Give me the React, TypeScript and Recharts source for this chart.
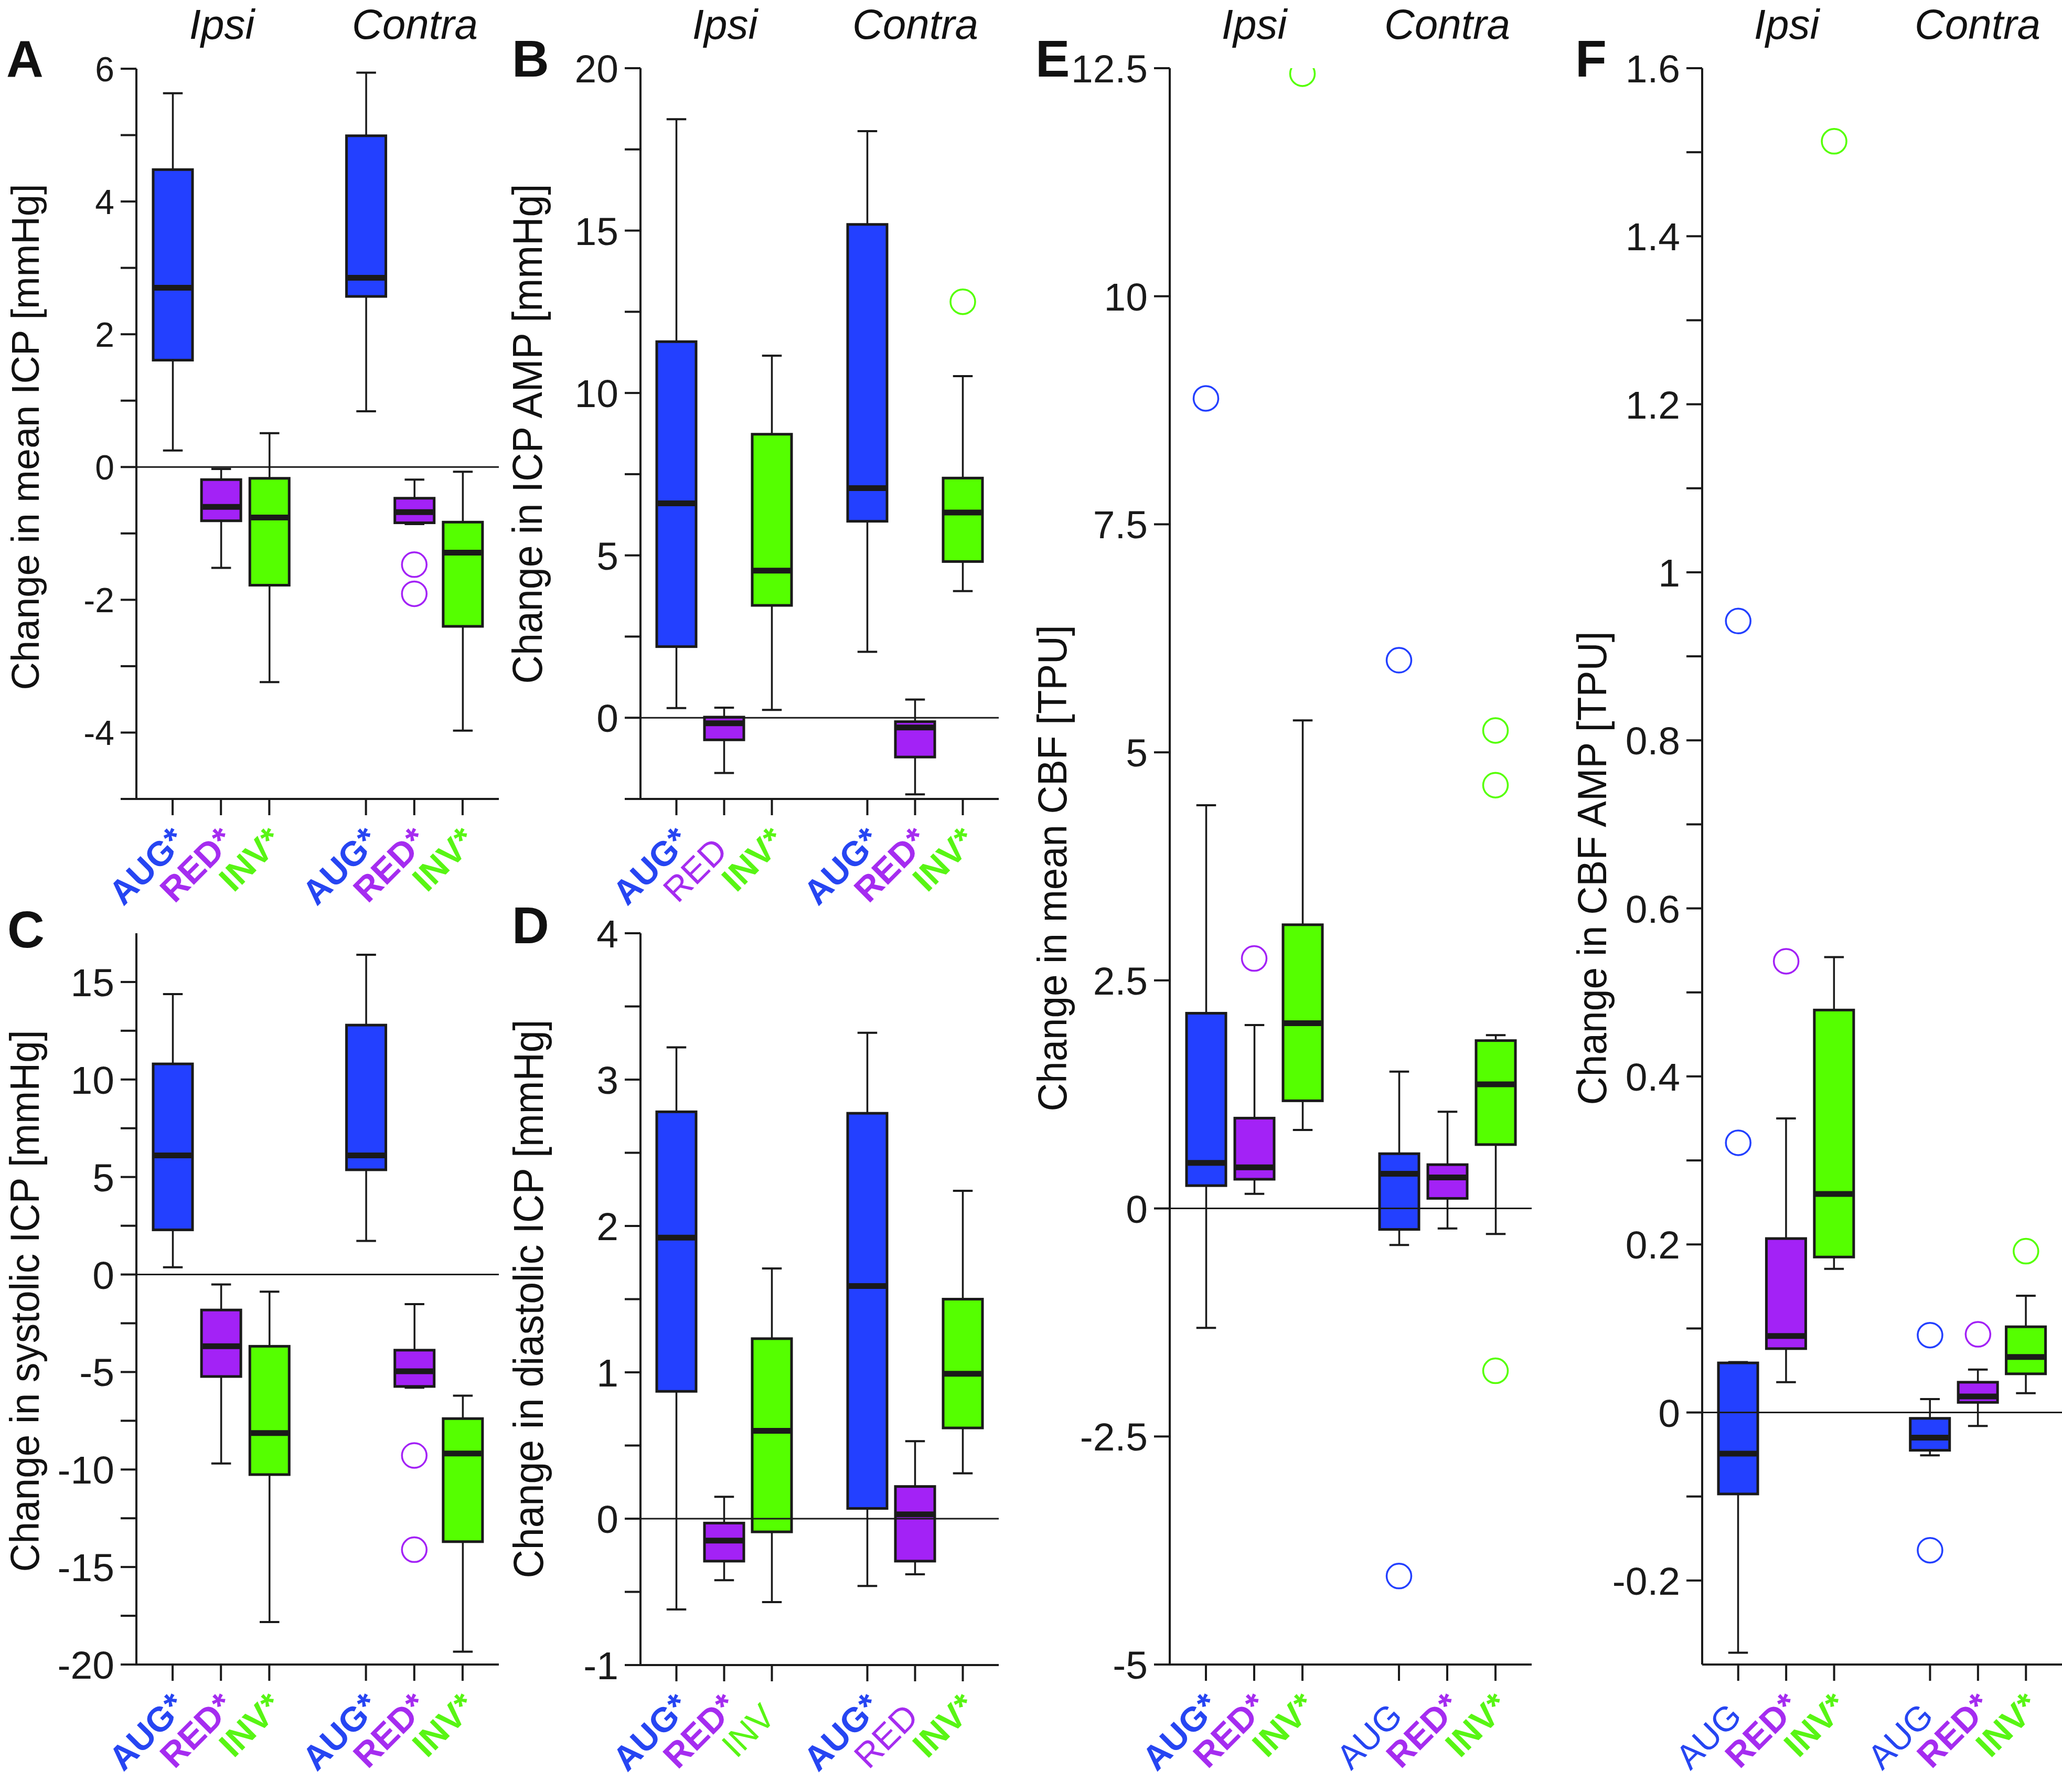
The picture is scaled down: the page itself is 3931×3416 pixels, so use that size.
import React from 'react'
import { ComposedChart, Bar, Line, XAxis, YAxis, ReferenceLine } from 'recharts'

const FONT = '"Liberation Sans", Arial, Helvetica, sans-serif'
const INK = '#1a1a1a'

// 7 slots on each x axis: ipsi AUG/RED/INV, an empty gap, contra AUG/RED/INV
const SLOTS = ['AUG', 'RED', 'INV', '', 'AUG', 'RED', 'INV']

const COLORS: Record<string, string> = { AUG: '#2340ff', RED: '#a322f6', INV: '#55ff00' }
const TEXT_COLORS: Record<string, string> = { AUG: '#2645f2', RED: '#a52cf0', INV: '#58f514' }

// boxes are [low whisker, q1, median, q3, high whisker]
// A - change in mean ICP [mmHg]
const A_BOXES = [
  [0.25, 1.61, 2.7, 4.48, 5.63],
  [-1.52, -0.81, -0.6, -0.19, -0.03],
  [-3.24, -1.78, -0.76, -0.17, 0.51],
  null,
  [0.84, 2.57, 2.85, 4.99, 5.94],
  [-0.86, -0.84, -0.68, -0.47, -0.19],
  [-3.97, -2.4, -1.29, -0.83, -0.07],
]
const A_OUTLIERS = [[], [], [], [], [], [-1.47, -1.91], []]
const A_STARS = [true, true, true, false, true, true, true]
const A_TICKS = [-5, -4, -3, -2, -1, 0, 1, 2, 3, 4, 5, 6]
const A_MAJORS = [-4, -2, 0, 2, 4, 6]

// B - change in ICP AMP [mmHg]
const B_BOXES = [
  [0.3, 2.19, 6.6, 11.58, 18.43],
  [-1.7, -0.68, -0.17, 0.02, 0.31],
  [0.24, 3.46, 4.53, 8.73, 11.15],
  null,
  [2.03, 6.05, 7.07, 15.19, 18.06],
  [-2.36, -1.21, -0.3, -0.12, 0.56],
  [3.9, 4.81, 6.32, 7.38, 10.52],
]
const B_OUTLIERS = [[], [], [], [], [], [], [12.81]]
const B_STARS = [true, false, true, false, true, true, true]
const B_TICKS = [-2.5, 0, 2.5, 5, 7.5, 10, 12.5, 15, 17.5, 20]
const B_MAJORS = [0, 5, 10, 15, 20]

// C - change in systolic ICP [mmHg]
const C_BOXES = [
  [0.37, 2.29, 6.11, 10.8, 14.38],
  [-9.69, -5.23, -3.68, -1.82, -0.51],
  [-17.82, -10.26, -8.13, -3.68, -0.88],
  null,
  [1.72, 5.37, 6.11, 12.79, 16.4],
  [-5.8, -5.74, -4.96, -3.88, -1.52],
  [-19.34, -13.7, -9.18, -7.39, -6.21],
]
const C_OUTLIERS = [[], [], [], [], [], [-9.28, -14.11], []]
const C_STARS = [true, true, true, false, true, true, true]
const C_TICKS = [-20, -17.5, -15, -12.5, -10, -7.5, -5, -2.5, 0, 2.5, 5, 7.5, 10, 12.5, 15]
const C_MAJORS = [-20, -15, -10, -5, 0, 5, 10, 15]

// D - change in diastolic ICP [mmHg]
const D_BOXES = [
  [-0.62, 0.87, 1.92, 2.78, 3.22],
  [-0.42, -0.29, -0.15, -0.03, 0.15],
  [-0.57, -0.09, 0.6, 1.23, 1.71],
  null,
  [-0.46, 0.07, 1.59, 2.77, 3.32],
  [-0.38, -0.29, 0.03, 0.22, 0.53],
  [0.31, 0.62, 0.99, 1.5, 2.24],
]
const D_OUTLIERS = [[], [], [], [], [], [], []]
const D_STARS = [true, true, false, false, true, false, true]
const D_TICKS = [-1, -0.5, 0, 0.5, 1, 1.5, 2, 2.5, 3, 3.5, 4]
const D_MAJORS = [-1, 0, 1, 2, 3, 4]

// E - change in mean CBF [TPU]
const E_BOXES = [
  [-1.31, 0.25, 0.5, 2.14, 4.42],
  [0.16, 0.32, 0.45, 0.99, 2.01],
  [0.86, 1.18, 2.03, 3.11, 5.35],
  null,
  [-0.4, -0.23, 0.38, 0.6, 1.5],
  [-0.22, 0.11, 0.34, 0.48, 1.06],
  [-0.28, 0.7, 1.36, 1.84, 1.9],
]
const E_OUTLIERS = [[8.88], [2.74], [12.44], [], [6.01, -4.03], [], [5.24, 4.64, -1.78]]
const E_STARS = [true, true, true, false, false, true, true]
const E_TICKS = [-5, -2.5, 0, 2.5, 5, 7.5, 10, 12.5]
const E_MAJORS = E_TICKS

// F - change in CBF AMP [TPU]
const F_BOXES = [
  [-0.286, -0.097, -0.049, 0.059, 0.06],
  [0.036, 0.076, 0.091, 0.207, 0.35],
  [0.171, 0.185, 0.26, 0.479, 0.542],
  null,
  [-0.051, -0.045, -0.03, -0.007, 0.016],
  [-0.016, 0.012, 0.019, 0.036, 0.051],
  [0.023, 0.046, 0.066, 0.102, 0.139],
]
const F_OUTLIERS = [[0.942, 0.321], [0.537], [1.513], [], [0.092, -0.164], [0.093], [0.192]]
const F_STARS = [false, true, true, false, false, true, true]
const F_TICKS = [-0.2, -0.1, 0, 0.1, 0.2, 0.3, 0.4, 0.5, 0.6, 0.7, 0.8, 0.9, 1, 1.1, 1.2, 1.3, 1.4, 1.5, 1.6]
const F_MAJORS = [-0.2, 0, 0.2, 0.4, 0.6, 0.8, 1, 1.2, 1.4, 1.6]

const buildRows = (boxes: any[], outliers: number[][], stars: boolean[]) =>
  SLOTS.map((group, i) => {
    const b = boxes[i]
    const o = outliers[i] || []
    return {
      slot: i,
      group,
      star: stars[i],
      range: b ? [b[0], b[4]] : null,
      q1: b ? b[1] : null,
      med: b ? b[2] : null,
      q3: b ? b[3] : null,
      o0: o[0] ?? null,
      o1: o[1] ?? null,
      o2: o[2] ?? null,
    }
  })

const fmt = (v: number) => String(Math.round(v * 100) / 100)

// box + whiskers, positioned from the bar rect that recharts scales for [low, high]
const BoxShape = (props: any) => {
  const { x, y, width, height, payload } = props
  if (!payload || !payload.range) return <g />
  const [lo, hi] = payload.range
  const py = (v: number) => (hi === lo ? y : y + ((hi - v) / (hi - lo)) * height)
  const cx = x + width / 2
  const cap = width / 4
  const top = py(payload.q3)
  const bot = py(payload.q1)
  const med = py(payload.med)
  return (
    <g>
      <line x1={cx} x2={cx} y1={y} y2={y + height} stroke={INK} strokeWidth={3.5} />
      <line x1={cx - cap} x2={cx + cap} y1={y} y2={y} stroke={INK} strokeWidth={4} />
      <line x1={cx - cap} x2={cx + cap} y1={y + height} y2={y + height} stroke={INK} strokeWidth={4} />
      <rect x={x} y={top} width={width} height={Math.max(bot - top, 0)} fill={COLORS[payload.group]} stroke={INK} strokeWidth={5} />
      <line x1={x + 2} x2={x + width - 2} y1={med} y2={med} stroke={INK} strokeWidth={11} />
    </g>
  )
}

const outlierDot = (p: any) => {
  const k = `o-${p.dataKey}-${p.index}`
  if (p.value == null || p.cy == null || Number.isNaN(p.cy)) return <g key={k} />
  return <circle key={k} cx={p.cx} cy={p.cy} r={23.5} fill="none" stroke={COLORS[p.payload.group]} strokeWidth={3.5} />
}

const YTick = ({ x, y, payload, majors, fontSize }: any) => {
  const v = payload.value
  if (!majors.some((m: number) => Math.abs(m - v) < 1e-9)) return <g />
  return (
    <text x={x} y={y} dy="0.36em" textAnchor="end" fontSize={fontSize} fill={INK} fontFamily={FONT}>
      {fmt(v)}
    </text>
  )
}

const XTick = ({ x, y, index, rows }: any) => {
  const row = rows[index]
  if (!row || !row.group) return <g />
  const color = TEXT_COLORS[row.group]
  return (
    <g>
      <line x1={x} x2={x} y1={y} y2={y + 31} stroke={INK} strokeWidth={4} />
      <g transform={`translate(${x + 10},${y + 102}) rotate(-45)`}>
        <text x={0} y={0} textAnchor="end" fontSize={66} fontWeight={row.star ? 700 : 400} fill={color} fontFamily={FONT}>
          {row.group}
        </text>
        {row.star && (
          <text x={1} y={-2} textAnchor="start" fontSize={66} fontWeight={700} fill={color} fontFamily={FONT}>
            *
          </text>
        )}
      </g>
    </g>
  )
}

const PANELS = [
  { id: 'A', boxes: A_BOXES, outliers: A_OUTLIERS, stars: A_STARS, ticks: A_TICKS, majors: A_MAJORS, domain: [-5, 6], axisX: 260, top: 131, bottom: 1523, right: 951, tickFont: 66 },
  { id: 'B', boxes: B_BOXES, outliers: B_OUTLIERS, stars: B_STARS, ticks: B_TICKS, majors: B_MAJORS, domain: [-2.5, 20], axisX: 1221, top: 130, bottom: 1523, right: 1904, tickFont: 75 },
  { id: 'C', boxes: C_BOXES, outliers: C_OUTLIERS, stars: C_STARS, ticks: C_TICKS, majors: C_MAJORS, domain: [-20, 17.5], axisX: 260, top: 1779, bottom: 3173, right: 951, tickFont: 75 },
  { id: 'D', boxes: D_BOXES, outliers: D_OUTLIERS, stars: D_STARS, ticks: D_TICKS, majors: D_MAJORS, domain: [-1, 4], axisX: 1221, top: 1779, bottom: 3174, right: 1904, tickFont: 75 },
  { id: 'E', boxes: E_BOXES, outliers: E_OUTLIERS, stars: E_STARS, ticks: E_TICKS, majors: E_MAJORS, domain: [-5, 12.5], axisX: 2230, top: 130, bottom: 3173, right: 2920, tickFont: 75 },
  { id: 'F', boxes: F_BOXES, outliers: F_OUTLIERS, stars: F_STARS, ticks: F_TICKS, majors: F_MAJORS, domain: [-0.3, 1.6], axisX: 3245, top: 130, bottom: 3173, right: 3931, tickFont: 75 },
]

const Y_AXIS_W = 200
const X_AXIS_H = 240
const M_TOP = 80
const M_RIGHT = 10

const Panel = ({ p }: any) => {
  const rows = buildRows(p.boxes, p.outliers, p.stars)
  const left = p.axisX - Y_AXIS_W
  const top = p.top - M_TOP
  const width = p.right - left + M_RIGHT
  const height = p.bottom - top + X_AXIS_H
  return (
    <div style={{ position: 'absolute', left, top, width, height }}>
      <ComposedChart
        width={width}
        height={height}
        data={rows}
        margin={{ top: M_TOP, right: M_RIGHT, bottom: 0, left: 0 }}
        style={{ overflow: 'visible' }}
      >
        <XAxis
          dataKey="slot"
          type="category"
          interval={0}
          tickLine={false}
          tickSize={0}
          tickMargin={0}
          height={X_AXIS_H}
          padding={{ left: 23, right: 23 }}
          axisLine={{ stroke: INK, strokeWidth: 4 }}
          tick={(t: any) => <XTick {...t} rows={rows} />}
        />
        <YAxis
          type="number"
          domain={p.domain}
          allowDataOverflow
          ticks={p.ticks}
          interval={0}
          width={Y_AXIS_W}
          tickSize={30}
          tickMargin={12}
          tickLine={{ stroke: INK, strokeWidth: 4 }}
          axisLine={{ stroke: INK, strokeWidth: 4 }}
          tick={(t: any) => <YTick {...t} majors={p.majors} fontSize={p.tickFont} />}
        />
        <ReferenceLine y={0} stroke={INK} strokeWidth={3} />
        <Bar dataKey="range" barSize={75} shape={BoxShape} isAnimationActive={false} />
        <Line dataKey="o0" stroke="none" dot={outlierDot} activeDot={false} legendType="none" isAnimationActive={false} />
        <Line dataKey="o1" stroke="none" dot={outlierDot} activeDot={false} legendType="none" isAnimationActive={false} />
        <Line dataKey="o2" stroke="none" dot={outlierDot} activeDot={false} legendType="none" isAnimationActive={false} />
      </ComposedChart>
    </div>
  )
}

const LETTERS = [
  { t: 'A', x: 12, y: 146 },
  { t: 'B', x: 976, y: 146 },
  { t: 'C', x: 14, y: 1806 },
  { t: 'D', x: 976, y: 1798 },
  { t: 'E', x: 1974, y: 146 },
  { t: 'F', x: 3003, y: 146 },
]

const HEADERS = [
  { t: 'Ipsi', x: 423 }, { t: 'Contra', x: 791 },
  { t: 'Ipsi', x: 1382 }, { t: 'Contra', x: 1745 },
  { t: 'Ipsi', x: 2391 }, { t: 'Contra', x: 2759 },
  { t: 'Ipsi', x: 3406 }, { t: 'Contra', x: 3770 },
]

const Y_LABELS = [
  { t: 'Change in mean ICP [mmHg]', x: 74, y: 833, len: 965, size: 74 },
  { t: 'Change in ICP AMP [mmHg]', x: 1033, y: 827, len: 953, size: 80 },
  { t: 'Change in systolic ICP [mmHg]', x: 74, y: 2480, len: 1033, size: 78 },
  { t: 'Change in diastolic ICP [mmHg]', x: 1035, y: 2476, len: 1065, size: 80 },
  { t: 'Change in mean CBF [TPU]', x: 2033, y: 1655, len: 927, size: 78 },
  { t: 'Change in CBF AMP [TPU]', x: 3062, y: 1655, len: 903, size: 78 },
]

export default function App() {
  return (
    <div style={{ position: 'absolute', left: 0, top: 0, width: 3931, height: 3416, overflow: 'hidden', background: '#fff', fontFamily: FONT }}>
      {PANELS.map((p) => (
        <Panel key={p.id} p={p} />
      ))}
      <svg width={3931} height={3416} style={{ position: 'absolute', left: 0, top: 0, pointerEvents: 'none' }}>
        {LETTERS.map((l) => (
          <text key={l.t} x={l.x} y={l.y} fontSize={98} fontWeight={700} fill="#111" fontFamily={FONT}>
            {l.t}
          </text>
        ))}
        {HEADERS.map((h, i) => (
          <text key={i} x={h.x} y={74} fontSize={80} fontStyle="italic" textAnchor="middle" fill="#111" fontFamily={FONT}>
            {h.t}
          </text>
        ))}
        {Y_LABELS.map((l, i) => (
          <text
            key={i}
            transform={`translate(${l.x},${l.y}) rotate(-90)`}
            textAnchor="middle"
            fontSize={l.size}
            textLength={l.len}
            lengthAdjust="spacingAndGlyphs"
            fill="#111"
            fontFamily={FONT}
          >
            {l.t}
          </text>
        ))}
      </svg>
    </div>
  )
}
